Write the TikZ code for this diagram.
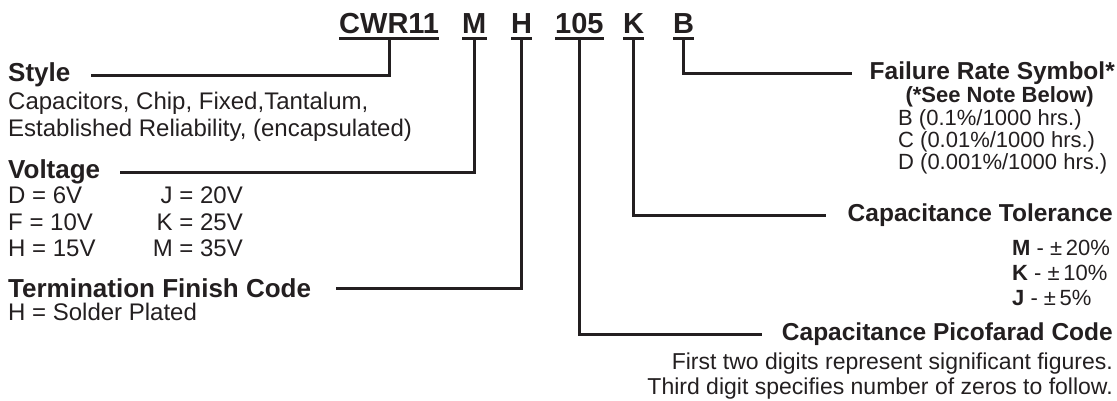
\documentclass[tikz,border=0pt]{standalone}
\usepackage{fontspec}
\setmainfont{Liberation Sans}
\definecolor{ink}{HTML}{231F20}
\tikzset{
	code/.style={anchor=base west, inner sep=0pt, font=\fontsize{29}{29}\selectfont\bfseries},
	lhead/.style={anchor=west, inner sep=0pt, font=\fontsize{26}{26}\selectfont\bfseries},
	rhead/.style={anchor=east, inner sep=0pt, font=\fontsize{24.5}{24.5}\selectfont\bfseries},
	ltext/.style={anchor=base west, inner sep=0pt, font=\fontsize{24}{24}\selectfont},
	rtext/.style={anchor=base west, inner sep=0pt, font=\fontsize{22}{22}\selectfont},
	lead/.style={line width=3pt},
}

\begin{document}
\begin{tikzpicture}[x=1pt, y=-1pt, ink]
		%%%%% START %%%%%
		\useasboundingbox (0,0) rectangle (1117,400);
		
		% part number
		\node[code] (cwr) at (339,33) {CWR11};
		\node[code] (volt) at (462,33) {M};
		\node[code] (term) at (511,33) {H};
		\node[code] (cap) at (555,33) {105};
		\node[code] (tol) at (623,33) {K};
		\node[code] (rate) at (673,33) {B};
		\foreach \n in {cwr,volt,term,cap,tol,rate}
			\draw[lead] ([yshift=-5pt]\n.base west) -- ([yshift=-5pt]\n.base east);
		
		% left side
		\node[lhead] (style) at (8,75) {Style};
		\node[ltext] (style1) at (8,109) {Capacitors, Chip, Fixed,Tantalum,};
		\node[ltext] (style2) at (8,136) {Established Reliability, (encapsulated)};
		
		\node[lhead] (voltage) at (8,172) {Voltage};
		\node[ltext] (vD) at (8,203) {D = 6V};
		\node[ltext] (vF) at (8,230) {F = 10V};
		\node[ltext] (vH) at (8,256) {H = 15V};
		\node[ltext, anchor=base east] (vJ) at (243,203) {J = 20V};
		\node[ltext, anchor=base east] (vK) at (243,230) {K = 25V};
		\node[ltext, anchor=base east] (vM) at (243,256) {M = 35V};
		
		\node[lhead] (finish) at (8,288) {Termination Finish Code};
		\node[ltext] (finish1) at (8,320) {H = Solder Plated};
		
		% right side
		\node[rhead] (failure) at (1115,73) {Failure Rate Symbol*};
		\node[rtext, anchor=base east, font=\fontsize{22}{22}\selectfont\bfseries] (note) at (1094,102) {(*See Note Below)};
		\node[rtext] (rB) at (898,125) {B (0.1\%/1000 hrs.)};
		\node[rtext] (rC) at (898,147) {C (0.01\%/1000 hrs.)};
		\node[rtext] (rD) at (898,169) {D (0.001\%/1000 hrs.)};
		
		\node[rhead] (tolerance) at (1113,215) {Capacitance Tolerance};
		\node[rtext] (tM) at (1012,255) {\textbf{M} - ±\,20\%};
		\node[rtext] (tK) at (1012,280) {\textbf{K} - ±\,10\%};
		\node[rtext] (tJ) at (1012,305) {\textbf{J} - ±\,5\%};
		
		\node[rhead] (pico) at (1113,334) {Capacitance Picofarad Code};
		\node[rtext, anchor=base east, font=\fontsize{23}{23}\selectfont] (pico1) at (1113,369) {First two digits represent significant figures.};
		\node[rtext, anchor=base east, font=\fontsize{23}{23}\selectfont] (pico2) at (1113,394) {Third digit specifies number of zeros to follow.};
		
		% leaders
		\draw[lead] ([yshift=-5pt]cwr.base) |- ([xshift=20pt]style.east);
		\draw[lead] ([yshift=-5pt]volt.base) |- ([xshift=20pt]voltage.east);
		\draw[lead] ([yshift=-5pt]term.base) |- ([xshift=25pt]finish.east);
		\draw[lead] ([yshift=-5pt]rate.base) |- ([xshift=-18pt]failure.west);
		\draw[lead] ([yshift=-5pt]tol.base) |- ([xshift=-22pt]tolerance.west);
		\draw[lead] ([yshift=-5pt]cap.base) |- ([xshift=-20pt]pico.west);
		
		%%%%% END %%%%%
\end{tikzpicture}
\end{document}
